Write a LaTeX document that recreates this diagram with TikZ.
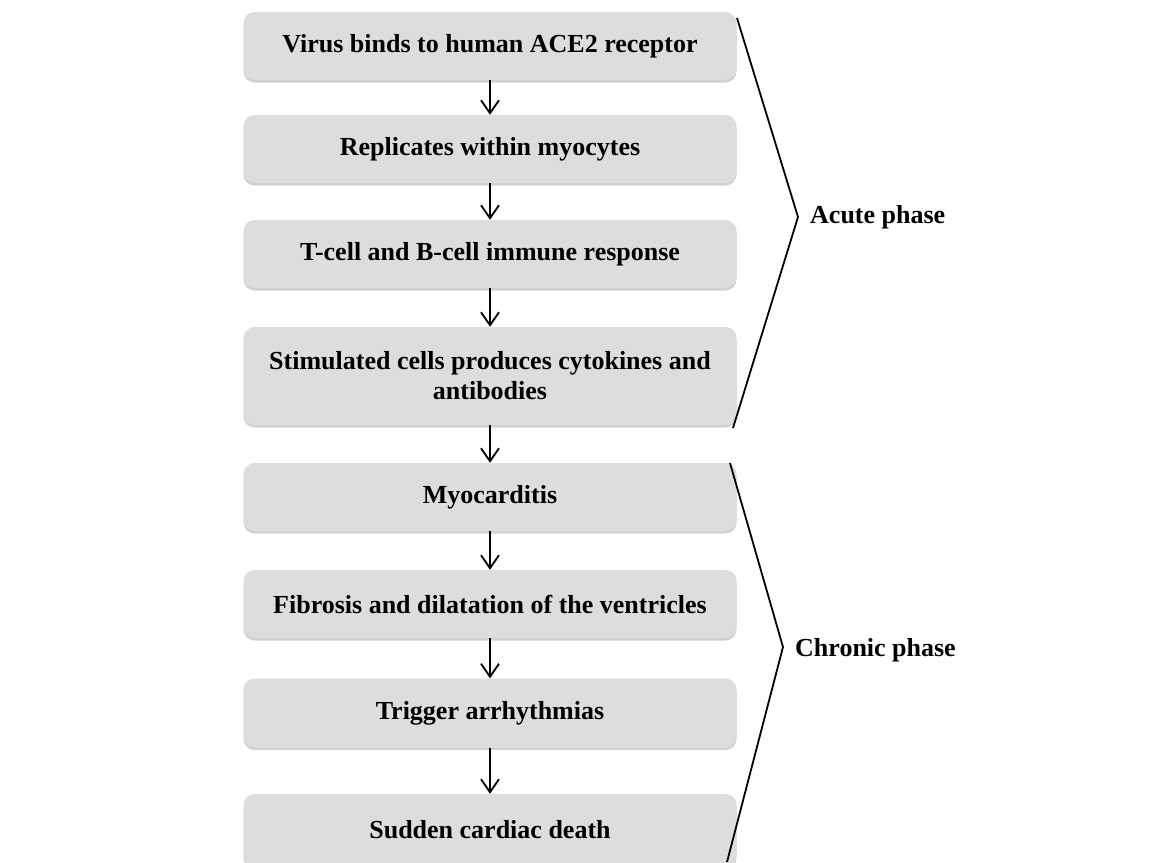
\documentclass[tikz,border=0pt]{standalone}
\usepackage{fontspec}
\setmainfont{Liberation Serif}
\usetikzlibrary{arrows.meta,shadows}
\begin{document}
\begin{tikzpicture}[x=1pt,y=-1pt,
  stepbox/.style={draw=none,fill=boxgray,rounded corners=11pt,minimum width=493pt,
    align=center,font=\fontsize{26}{30}\selectfont\bfseries,inner sep=0pt,
    drop shadow={shadow xshift=0pt,shadow yshift=-2.5pt,fill=black,opacity=0.18}},
  flow/.style={draw=black,line width=1.7pt,-{Straight Barb[length=13pt,width=18pt,line width=1.8pt]}},
  brace/.style={draw=black,line width=1.8pt,line join=miter},
  phase/.style={anchor=west,font=\fontsize{26}{30}\selectfont\bfseries,inner sep=0pt}]
\definecolor{boxgray}{RGB}{220,221,223}
\useasboundingbox (0,0) rectangle (1167,862);
\fill[white] (0,0) rectangle (1167,862);
\node[stepbox,minimum height=68pt] (b1) at (490,46) {Virus binds to human ACE2 receptor};
\node[stepbox,minimum height=68pt] (b2) at (490,149) {Replicates within myocytes};
\node[stepbox,minimum height=68pt] (b3) at (490,254) {T-cell and B-cell immune response};
\node[stepbox,minimum height=98pt] (b4) at (490,376) {Stimulated cells produces cytokines and\\antibodies};
\node[stepbox,minimum height=68pt] (b5) at (490,497) {Myocarditis};
\node[stepbox,minimum height=68pt] (b6) at (490,604) {Fibrosis and dilatation of the ventricles};
\node[stepbox,minimum height=69pt] (b7) at (490,713) {Trigger arrhythmias};
\node[stepbox,minimum height=72pt] (b8) at (490,830) {Sudden cardiac death};
\foreach \a/\b in {b1/b2,b2/b3,b3/b4,b4/b5,b5/b6,b6/b7,b7/b8}
  \draw[flow] (\a.south) -- (\b.north);
\coordinate (at) at (737,18);
\coordinate (ap) at (798,217);
\coordinate (ab) at (733,428);
\draw[brace] (at) -- (ap) -- (ab);
\node[phase] (acute) at (810,217) {Acute phase};
\coordinate (ct) at (730,463);
\coordinate (cp) at (783,647);
\coordinate (cb) at (727,862);
\draw[brace] (ct) -- (cp) -- (cb);
\node[phase] (chronic) at (795,650) {Chronic phase};
\end{tikzpicture}
\end{document}
